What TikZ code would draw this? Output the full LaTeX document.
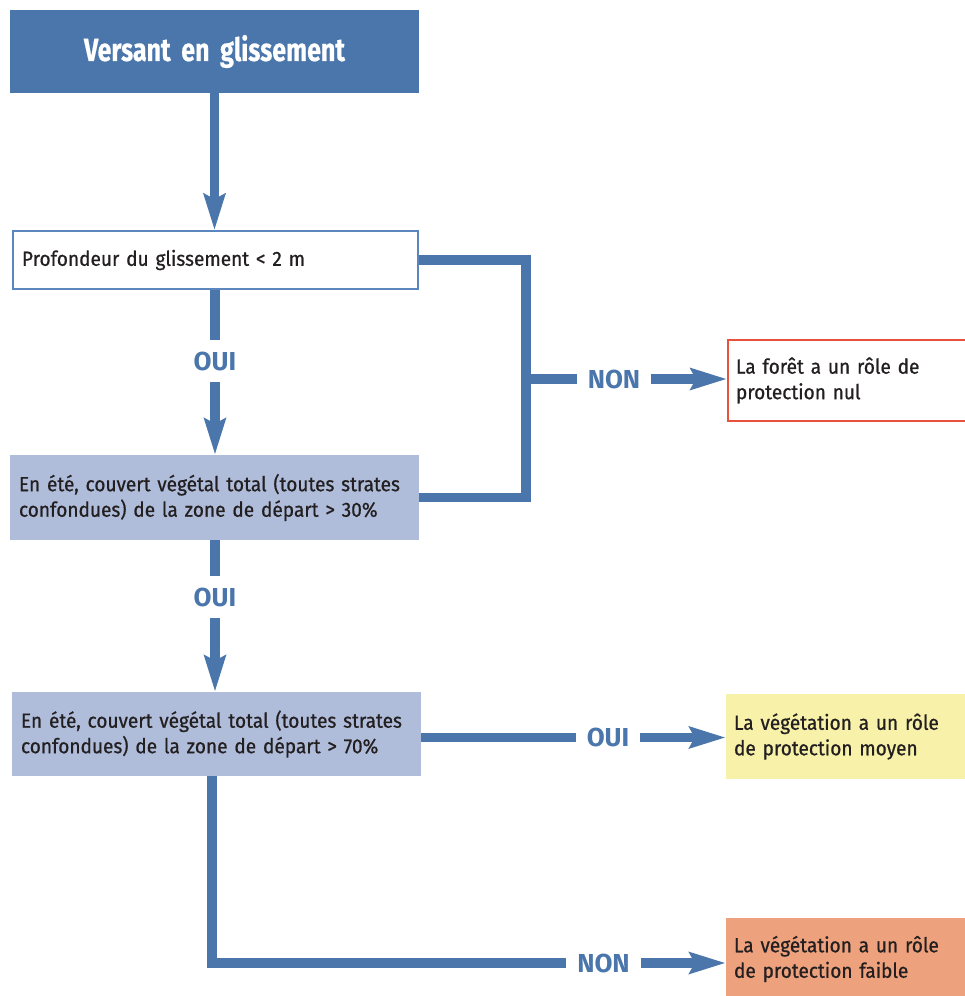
\documentclass[tikz,border=0pt]{standalone}
\usepackage{fontspec}
\setmainfont{Fira Sans}[FakeStretch=0.93, FakeBold=0.7, WordSpace=0.85]
\newfontfamily\titlefont{Fira Sans}[FakeStretch=0.78, FakeBold=0.6]
\newfontfamily\lblfont{Fira Sans}
\usetikzlibrary{arrows.meta}
\definecolor{mainblue}{HTML}{4A76AB}
\definecolor{lav}{HTML}{AFBDDB}
\definecolor{redb}{HTML}{E8513B}
\definecolor{pyellow}{HTML}{F8F1A9}
\definecolor{salmon}{HTML}{EDA27D}
\definecolor{txt}{HTML}{231F20}
\definecolor{boxline}{HTML}{5B86BF}
\begin{document}
\begin{tikzpicture}[x=1pt,y=-1pt,
  conn/.style={draw=mainblue, line width=9.5pt, line join=miter},
  arr/.style={conn, -{Stealth[length=36pt,width=21pt,inset=5pt]}},
  base/.style={rectangle, inner xsep=9pt, inner ysep=0pt, align=left,
    font=\fontsize{20.5}{25.5}\selectfont, text=txt},
  lbl/.style={font=\lblfont\bfseries\fontsize{26}{26}\selectfont, text=mainblue,
    inner xsep=11pt, inner ysep=12pt, text height=18pt, text depth=0pt},
]
\useasboundingbox (0,0) rectangle (965,996);

\node[base, fill=mainblue, minimum width=409pt, minimum height=83pt, text width=391pt,
  align=center, text=white, font=\titlefont\bfseries\fontsize{32}{36}\selectfont]
  (title) at (214.5,51.5) {Versant en glissement};

\node[base, draw=boxline, line width=1.5pt, fill=white, minimum height=58pt, text width=387pt]
  (q1) at (215.5,260) {Profondeur du glissement < 2 m};

\node[base, fill=lav, minimum height=85pt, text width=391pt]
  (q2) at (214.5,497.5) {En été, couvert végétal total (toutes strates\\confondues) de la zone de départ > 30\%};

\node[base, fill=lav, minimum height=84pt, text width=391pt]
  (q3) at (216.5,734) {En été, couvert végétal total (toutes strates\\confondues) de la zone de départ > 70\%};

\node[base, draw=redb, line width=2pt, fill=white, minimum height=81pt, text width=223pt, inner xsep=8pt]
  (r1) at (847.5,380.5) {La forêt a un rôle de\\protection nul};

\node[base, fill=pyellow, minimum height=85pt, text width=225pt, inner xsep=8pt]
  (r2) at (846.5,736.5) {La végétation a un rôle\\de protection moyen};

\node[base, fill=salmon, minimum height=82pt, text width=225pt, inner xsep=8pt]
  (r3) at (846.5,959) {La végétation a un rôle\\de protection faible};

\node[lbl] (oui1) at (215,361) {OUI};
\node[lbl] (non1) at (614,379) {NON};
\node[lbl] (oui2) at (215,597) {OUI};
\node[lbl] (oui3) at (608,737.5) {OUI};
\node[lbl] (non2) at (603.5,963) {NON};

\coordinate (jn) at (525,379);

\draw[arr] (title.south) -- (title.south |- q1.north);
\draw[conn] (oui1 |- q1.south) -- (oui1.north);
\draw[arr] (oui1.south) -- (oui1.south |- q2.north);
\draw[conn] (q1.east) -- ++(107,0) |- (q2.east);
\draw[conn] (jn) -- (non1.west);
\draw[arr] (non1.east) -- (non1.east -| r1.west);
\draw[conn] (oui2 |- q2.south) -- (oui2.north);
\draw[arr] (oui2.south) -- (oui2.south |- q3.north);
\draw[conn] (q3.east |- oui3) -- (oui3.west);
\draw[arr] (oui3.east) -- (oui3.east -| r2.west);
\draw[conn] ([xshift=-4.5pt]q3.south) |- (non2.west);
\draw[arr] (non2.east) -- (non2.east -| r3.west);
\end{tikzpicture}
\end{document}
